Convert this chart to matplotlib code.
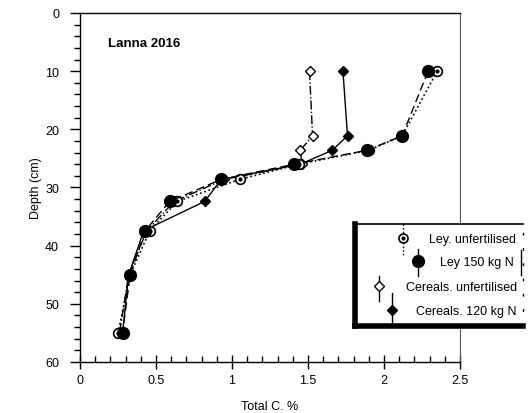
import matplotlib
matplotlib.use("Agg")
import matplotlib.pyplot as plt
from matplotlib.ticker import MultipleLocator

plt.rcParams['font.family'] = ['Liberation Sans', 'DejaVu Sans']

# depth (cm) and total C (%) per treatment
depth = [10, 21.1, 23.6, 26.0, 28.6, 32.4, 37.4, 45.0, 55.0]
ley_unf = [2.35, 2.12, 1.90, 1.44, 1.05, 0.64, 0.46, 0.33, 0.25]
ley_150 = [2.29, 2.12, 1.89, 1.41, 0.93, 0.59, 0.43, 0.33, 0.28]
cer_unf = [1.51, 1.53, 1.45, 1.46, 0.95, 0.62, 0.44, 0.32, 0.26]
cer_120 = [1.73, 1.76, 1.66, 1.45, 0.93, 0.82, 0.42, 0.32, 0.28]
labels = ["Ley. unfertilised", "Ley 150 kg N", "Cereals. unfertilised", "Cereals. 120 kg N"]

fig = plt.figure(figsize=(5.28, 4.14), dpi=100)
ax = fig.add_axes([0.1515, 0.1232, 0.7197, 0.843])

ax.plot(cer_120, depth, '-', color='k', lw=1, marker='D', ms=5.5, mfc='k', mec='k', zorder=3)
ax.plot(cer_unf, depth, '-.', color='k', lw=1, marker='D', ms=5.5, mfc='white', mec='k', zorder=3)
ax.plot(ley_unf, depth, ':', color='k', lw=1.2, marker='o', ms=7, mfc='white', mec='k', mew=1.2, zorder=4)
ax.plot(ley_unf, depth, ls='none', marker='o', ms=2, mfc='k', mec='k', zorder=4.5)
ax.plot(ley_150, depth, '--', color='k', lw=1, dashes=(6, 3), marker='o', ms=8.5, mfc='k', mec='k', zorder=5)

ax.set_xlim(0, 2.5)
ax.set_ylim(60, 0)
ax.xaxis.set_major_locator(MultipleLocator(0.5))
ax.xaxis.set_minor_locator(MultipleLocator(0.1))
ax.yaxis.set_major_locator(MultipleLocator(10))
ax.yaxis.set_minor_locator(MultipleLocator(2))
ax.xaxis.set_major_formatter(plt.FuncFormatter(lambda v, p: ('%g' % v)))
ax.tick_params(axis='y', which='major', direction='out', length=7, width=1, labelsize=9, pad=8)
ax.tick_params(axis='y', which='minor', direction='out', length=4, width=1)
ax.tick_params(axis='x', which='major', direction='inout', length=10, width=1, labelsize=9, pad=4)
ax.tick_params(axis='x', which='minor', direction='in', length=4, width=1)
for s in ['top', 'left', 'bottom']:
    ax.spines[s].set_linewidth(1)
ax.spines['right'].set_color('#555555')
ax.set_xlabel("Total C. %", fontsize=9, labelpad=10)
ax.set_ylabel("Depth (cm)", fontsize=9, labelpad=2)
ax.text(0.075, 0.905, "Lanna 2016", transform=ax.transAxes, fontsize=9.5, fontweight='bold')

# legend box drawn by hand (pixel units inside its own axes)
lg = fig.add_axes([355 / 528, 1 - 327 / 414, 168 / 528, 102 / 414])
lg.set_xlim(355, 523)
lg.set_ylim(327, 225)
lg.set_xticks([])
lg.set_yticks([])
lg.set_facecolor('white')
lg.spines['top'].set_linewidth(1.2)
lg.spines['right'].set_linewidth(1.0)
lg.spines['right'].set_linestyle((0, (1, 10)))
lg.spines['left'].set_linewidth(4)
lg.spines['bottom'].set_linewidth(4)

lg.plot([403, 403], [225, 256], ':', color='k', lw=1)
lg.plot([403], [239], 'o', ms=6.5, mfc='white', mec='k', mew=1.2)
lg.plot([403], [239], 'o', ms=2, mfc='k', mec='k')
lg.plot([418, 418], [250, 277], '-', color='k', lw=1)
lg.plot([418], [262], 'o', ms=8.5, mfc='k', mec='k')
lg.plot([379, 379], [277, 302], '-', color='k', lw=1)
lg.plot([379], [287], 'D', ms=5, mfc='white', mec='k')
lg.plot([392, 392], [294, 327], '-', color='k', lw=1)
lg.plot([392], [311], 'D', ms=5.5, mfc='k', mec='k')
lg.plot([521, 521], [251, 276], '-', color='k', lw=1)
lg.text(516, 240, labels[0], ha='right', va='center', fontsize=9)
lg.text(514, 263, labels[1], ha='right', va='center', fontsize=9)
lg.text(517, 288, labels[2], ha='right', va='center', fontsize=9)
lg.text(517, 312, labels[3], ha='right', va='center', fontsize=9)

fig.savefig("out.png", dpi=100)
